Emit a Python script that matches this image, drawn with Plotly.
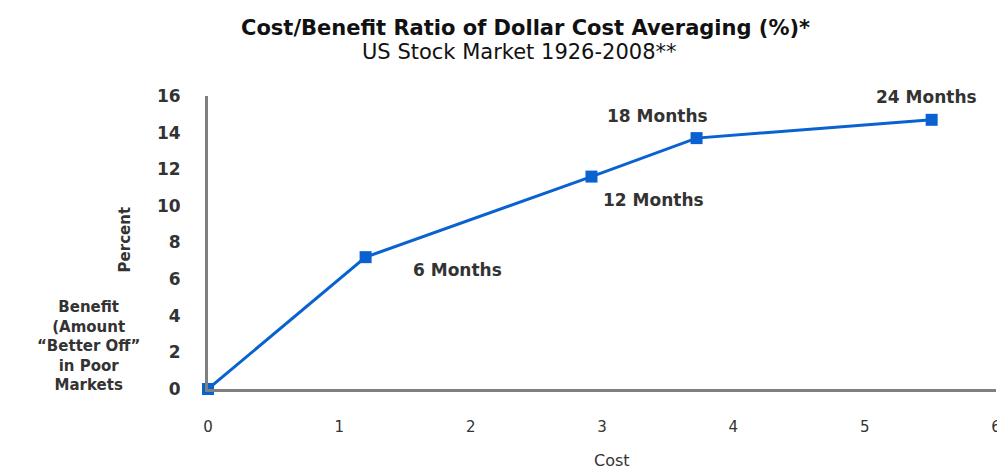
import plotly.graph_objects as go

cost = [0, 1.2, 2.92, 3.72, 5.51]
benefit = [0, 7.2, 11.6, 13.7, 14.7]
point_labels = ["", "6 Months", "12 Months", "18 Months", "24 Months"]
x_ticks = [0, 1, 2, 3, 4, 5, 6]
y_ticks = [0, 2, 4, 6, 8, 10, 12, 14, 16]

W, H = 1005, 470
L, R, T, B = 200, 13, 88, 89
PW, PH = W - L - R, H - T - B
OFF = 8  # page body margin


def paper(sx, sy):
    fx, fy = sx - OFF, sy - OFF
    return (fx - L) / PW, (H - B - fy) / PH


TXT = "#333333"
fig = go.Figure()
fig.add_trace(go.Scatter(
    x=cost, y=benefit, mode="lines+markers",
    line=dict(color="#0a62d0", width=3),
    marker=dict(symbol="square", size=12, color="#0a62d0"),
    cliponaxis=False, showlegend=False, hoverinfo="skip"))

label_offsets = {"6 Months": (92, 13), "12 Months": (62, 23),
                 "18 Months": (-39, -22), "24 Months": (-5, -23)}
for x, y, t in zip(cost, benefit, point_labels):
    if not t:
        continue
    ax, ay = label_offsets[t]
    fig.add_annotation(x=x, y=y, xref="x", yref="y", text=t, showarrow=True,
                       arrowcolor="rgba(0,0,0,0)", ax=ax, ay=ay,
                       font=dict(family="DejaVu Sans", size=17, color=TXT, weight="bold"))


def label(sx, sy, text, **kw):
    px_, py_ = paper(sx, sy)
    fig.add_annotation(xref="paper", yref="paper", x=px_, y=py_, text=text, showarrow=False,
                       xanchor="center", yanchor="middle", **kw)


label(125, 240, "Percent", textangle=-90,
      font=dict(family="DejaVu Sans", size=15, color=TXT, weight="bold"))
label(88, 346, "Benefit<br>(Amount<br>\u201cBetter Off\u201d<br>in Poor<br>Markets", align="center",
      font=dict(family="DejaVu Sans", size=15, color=TXT, weight="bold"))
label(614, 460, "Cost", font=dict(family="DejaVu Sans", size=16, color=TXT))
label(527, 28, "<b>Cost/Benefit Ratio of Dollar Cost Averaging (%)*</b>",
      font=dict(family="DejaVu Sans", size=21, color="#111111"))
label(521, 52, "US Stock Market 1926-2008**",
      font=dict(family="DejaVu Sans", size=21, color="#111111"))

fig.update_layout(
    width=W, height=H,
    margin=dict(l=L, r=R, t=T, b=B),
    paper_bgcolor="white", plot_bgcolor="white",
    xaxis=dict(range=[0, 6], tickvals=x_ticks, showgrid=False, zeroline=False,
               showline=True, linecolor="#808080", linewidth=3,
               ticks="", ticklabelstandoff=22,
               tickfont=dict(family="DejaVu Sans", size=15, color=TXT)),
    yaxis=dict(range=[0, 16], tickvals=y_ticks, showgrid=False, zeroline=False,
               showline=True, linecolor="#808080", linewidth=3,
               ticks="", ticklabelstandoff=21,
               tickfont=dict(family="DejaVu Sans", size=17, color=TXT, weight="bold")),
)

fig.write_html("out.html")
